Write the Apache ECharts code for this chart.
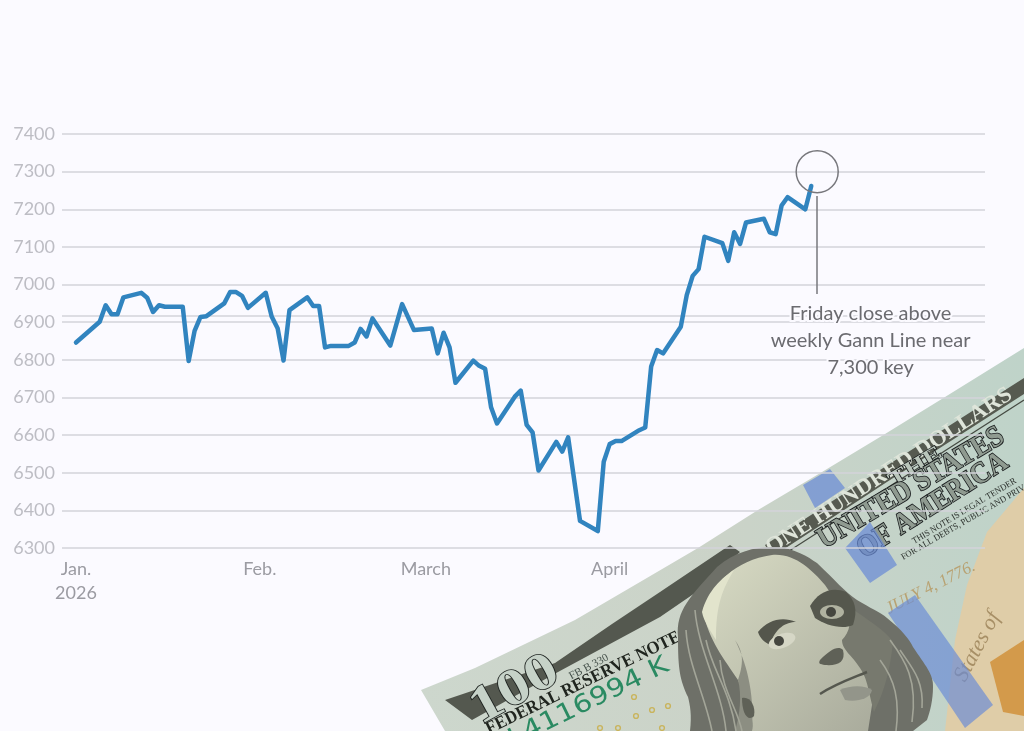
<!DOCTYPE html>
<html>
<head>
<meta charset="utf-8">
<style>html,body{margin:0;height:100%;background:#fbfaff;overflow:hidden}#chart{width:1024px;height:731px}</style>
<script src="https://cdn.jsdelivr.net/npm/echarts@6/dist/echarts.min.js"></script>
</head>
<body>
<div id="chart"></div>
<script>
const dates = ["01-01","01-05","01-06","01-07","01-08","01-09","01-12","01-13","01-14","01-15","01-16","01-19","01-20","01-21","01-22","01-23",
  "01-26","01-27","01-28","01-29","01-30","02-02","02-03","02-04","02-05","02-06","02-09","02-10","02-11","02-12","02-13","02-16","02-17","02-18","02-19","02-20",
  "02-23","02-25","02-27","03-02","03-03","03-04","03-05","03-06","03-09","03-10","03-11","03-12","03-13","03-16","03-17","03-18","03-19","03-20",
  "03-23","03-24","03-25","03-27","03-30","03-31","04-01","04-02","04-03","04-06","04-07","04-08","04-09","04-10","04-13","04-14","04-15","04-16","04-17",
  "04-20","04-21","04-22","04-23","04-24","04-27","04-28","04-29","04-30","05-01","05-04","05-05"];
const closes = [6846,6901,6945,6921,6921,6966,6978,6965,6927,6945,6941,6941,6797,6877,6914,6916,
  6950,6980,6980,6970,6938,6978,6915,6884,6798,6932,6966,6943,6943,6833,6837,6837,6846,6882,6862,6910,
  6838,6948,6879,6883,6817,6872,6833,6739,6798,6784,6776,6674,6631,6702,6718,6627,6607,6506,
  6582,6556,6594,6372,6345,6529,6576,6584,6584,6613,6620,6782,6826,6817,6888,6972,7023,7041,7127,
  7110,7063,7139,7108,7165,7175,7139,7134,7210,7232,7200,7262];
const monthTicks = ["01-01","02-01","03-01","04-01"];
const monthLabels = ["Jan.\n2026","Feb.","March","April"];
const gannLevel = 6918;
const noteLines = ["Friday close above","weekly Gann Line near","7,300 key"];

const ts = (d) => Date.parse("2026-" + d + "T00:00:00Z");
const DAY = 86400000;
const sansFont = "Lato, 'Open Sans', sans-serif";
const serifFont = "'Liberation Serif', serif";

// decoration: the banknote in the corner, screen coordinates
const poly = (pts, fill) => ({ type: "polygon", shape: { points: pts }, style: { fill: fill }, silent: true });
let pathCount = 0;
const path = (d, style) => {
  const name = "billPath" + pathCount++;
  echarts.graphic.registerShape(name, echarts.graphic.extendPath(d));
  return { type: name, style: style, silent: true };
};
const strokes = (list, color, width) => list.map((d) => path(d, { fill: "none", stroke: color, lineWidth: width }));
const label = (text, x, y, deg, size, fill, extra, scaleX) => ({
  type: "text", x: x, y: y, rotation: deg * Math.PI / 180, scaleX: scaleX || 1, silent: true,
  style: Object.assign({ text: text, x: 0, y: 0, fill: fill, fontFamily: serifFont, fontSize: size, verticalAlign: "middle" }, extra)
});
const dot = (x, y) => ({ type: "circle", shape: { cx: x, cy: y, r: 2.4 }, style: { fill: "none", stroke: "#c9b45c", lineWidth: 1.4 }, silent: true });
const ellipse = (cx, cy, rx, ry, deg, fill) => ({
  type: "ellipse", shape: { cx: cx, cy: cy, rx: rx, ry: ry }, rotation: deg * Math.PI / 180, originX: cx, originY: cy, style: { fill: fill }, silent: true
});
const heavy = { stroke: "#15181a", lineWidth: 1.7, fontWeight: "bold" };

const bill = [
  poly([[421,690],[475,668],[575,620],[640,582],[698,548],[758,510],[822,472],[885,434],[945,397],[1024,348],[1024,731],[445,731]], {
    type: "linear", x: 0, y: 0, x2: 1, y2: 0,
    colorStops: [{ offset: 0, color: "#cdd7cd" }, { offset: 0.5, color: "#cbd3c8" }, { offset: 1, color: "#bfd3c9" }]
  }),
  // tan seal area on the right
  poly([[987,532],[1024,488],[1024,731],[945,731],[955,640],[967,585]], "#dfcda8"),
  poly([[990,662],[1024,640],[1024,716],[1003,712]], "#d39a4b"),
  // engraved bands
  poly([[445,700],[555,663],[612,624],[660,592],[730,545],[740,552],[695,593],[660,617],[558,672],[472,720]], "#54584f"),
  poly([[765,545],[880,470],[1013,385],[1024,378],[1024,394],[890,480],[772,557]], "#565a50"),
  path("M775 560L1024 400", { stroke: "#454a42", lineWidth: 1.2, fill: "none" }),
  label("100", 474, 713, 29, 52, "#c6d2c8", { stroke: "#1e2320", lineWidth: 1.6, fontWeight: "bold" }, 1.2),
  label("FB B 330", 570, 677, 28, 11, "#44504a"),
  label("FEDERAL RESERVE NOTE", 487, 730, 26, 18, "#20251f", { fontWeight: "bold" }, 0.93),
  label("L4116994 K", 510, 741, 26, 25, "#2a8a62", { fontFamily: "'DejaVu Sans', sans-serif" }, 1.17),
  label("ONE HUNDRED DOLLARS", 768, 550, 33, 23, "#dfe5da", { fontWeight: "bold" }),
  label("THE", 890, 482, 31, 20, "#b9c5ba", { stroke: "#15181a", lineWidth: 1.3, fontWeight: "bold" }, 1.4),
  label("UNITED STATES", 820, 542, 30.6, 30, "#8f9a90", heavy, 0.9),
  label("OF AMERICA", 860, 552, 32.5, 30, "#8f9a90", heavy, 0.88),
  label("THIS NOTE IS LEGAL TENDER", 913, 542, 31, 9, "#2b302c", null, 0.95),
  label("FOR ALL DEBTS, PUBLIC AND PRIVATE", 902, 558, 30, 9, "#2b302c", null, 0.95),
  label("JULY 4, 1776.", 887, 610, 27, 17, "#b8a272", { fontStyle: "italic" }),
  label("States of", 960, 680, 62, 22, "#a78f66", { fontStyle: "italic" }),
  // blue security ribbon
  poly([[803,485],[830,469],[845,488],[815,508]], "rgba(105,138,214,0.72)"),
  poly([[845,548],[870,522],[897,565],[870,583]], "rgba(105,138,214,0.72)"),
  poly([[888,613],[915,595],[993,705],[965,728]], "rgba(105,138,214,0.68)"),
  // yellow 100s
  dot(634,697), dot(652,710), dot(668,706), dot(636,716), dot(618,728), dot(662,728), dot(600,728),
  // portrait: hair and coat
  path("M678 637C676 610 690 597 717 567C735 552 753 547 775 547C795 548 808 557 817 563C835 580 845 592 857 600C870 608 880 612 887 618C902 630 910 640 913 647C925 665 934 675 933 687C933 700 930 712 927 720L913 731L690 731C692 715 690 705 688 697C680 680 678 670 678 637Z", { fill: "#6e7068" }),
  // face
  path("M703 610C712 585 735 560 772 555C795 553 812 570 825 585C835 600 845 612 858 625C870 650 878 680 872 705L868 731L752 731C755 718 746 700 738 680C725 660 708 640 703 610Z", {
    fill: { type: "linear", x: 0, y: 0, x2: 1, y2: 1, colorStops: [{ offset: 0, color: "#d8dbc4" }, { offset: 1, color: "#a9ab9c" }] }
  }),
  path("M702 612C708 590 722 578 734 570C722 590 716 605 716 640C710 630 704 622 702 612Z", { fill: "#e2e4cc" }),
  // shadow side of the face
  path("M848 606C868 620 885 630 893 642C890 670 885 690 874 712C868 690 868 680 860 668C852 655 842 650 842 640C850 632 852 620 848 606Z", { fill: "#77796e" }),
  path("M738 680C745 660 742 650 735 640C745 660 755 690 752 731L735 731C740 715 742 695 738 680Z", { fill: "#8c8e82" })
].concat(
  // hair strands
  strokes(["M686 630C688 665 705 695 712 731","M695 610C698 650 722 690 726 731","M706 640C712 670 730 690 736 731","M720 660C722 690 738 710 742 731",
    "M890 640C905 660 918 680 912 722","M900 650C912 668 924 680 922 708","M880 660C895 680 900 700 896 731"], "#a3a598", 1.6)
).concat([
  // brows and eyes
  path("M758 632C768 620 782 616 796 622C786 622 775 628 770 645C764 642 760 638 758 632Z", { fill: "#54564c" }),
  path("M810 606C818 592 832 586 846 592C855 600 858 610 853 625C842 630 825 625 815 618Z", { fill: "#55574d" }),
  ellipse(782, 641, 14, 7, 20, "#d6d7c6"),
  { type: "circle", shape: { cx: 779, cy: 641, r: 5 }, style: { fill: "#45463f" }, silent: true },
  ellipse(832, 612, 12, 7, 0, "#b0b2a0"),
  { type: "circle", shape: { cx: 831, cy: 612, r: 5 }, style: { fill: "#45463f" }, silent: true },
  // nose and mouth
  path("M820 660C830 650 838 645 843 650C846 662 838 666 825 665C820 664 818 664 820 660Z", { fill: "#5f6157" }),
  path("M820 694C835 684 850 679 867 672", { fill: "none", stroke: "#55574e", lineWidth: 2.5 }),
  path("M840 690C850 685 865 685 872 690C870 700 855 702 845 700Z", { fill: "#93958a" }),
  // ear
  path("M742 698C750 696 756 706 754 716C748 722 742 714 742 698Z", { fill: "#5f6157" })
]);

const chart = echarts.init(document.getElementById("chart"));
window.addEventListener("resize", () => chart.resize());
chart.setOption({
  animation: false,
  backgroundColor: "#fbfaff",
  textStyle: { fontFamily: sansFont },
  grid: { left: 62, right: 39, top: 134, bottom: 183 },
  xAxis: {
    type: "value",
    min: ts("01-01") - 2.36 * DAY,
    max: ts("01-01") + 153.3 * DAY,
    axisLine: { show: false },
    axisTick: { show: false },
    splitLine: { show: false },
    axisLabel: {
      customValues: monthTicks.map(ts),
      formatter: (v) => monthLabels[monthTicks.map(ts).indexOf(v)] || "",
      color: "#9b9ba2", fontSize: 18, lineHeight: 24, margin: 9, hideOverlap: false
    }
  },
  yAxis: {
    type: "value", min: 6300, max: 7400, interval: 100,
    axisLine: { show: false },
    axisTick: { show: false },
    axisLabel: { color: "#bdbdc4", fontSize: 18, margin: 7, formatter: (v) => String(v) },
    splitLine: { lineStyle: { color: "#d3d3da", width: 1.6 } }
  },
  series: [{
    type: "line",
    data: dates.map((d, i) => [ts(d), closes[i]]),
    showSymbol: false,
    lineStyle: { color: "#3184bf", width: 4.5, cap: "round", join: "round" },
    itemStyle: { color: "#3184bf" },
    silent: true,
    z: 3,
    markLine: {
      silent: true, symbol: "none", z: 1, animation: false,
      label: { show: false },
      data: [
        [{ xAxis: ts("01-01") - 2.36 * DAY, yAxis: gannLevel, lineStyle: { color: "#d3d3da", width: 1.6, type: "solid" } },
         { xAxis: ts("01-01") + 153.3 * DAY, yAxis: gannLevel }],
        [{ xAxis: ts("05-06"), yAxis: 7235, lineStyle: { color: "#77777c", width: 1.5, type: "solid" } },
         { xAxis: ts("05-06"), yAxis: 6975 }]
      ]
    },
    markPoint: {
      silent: true, animation: false,
      data: [
        { coord: [ts("05-06"), 7300], symbol: "circle", symbolSize: 42,
          itemStyle: { color: "rgba(0,0,0,0)", borderColor: "#77777c", borderWidth: 1.5 }, label: { show: false } },
        { coord: [ts("05-15"), 6850], symbol: "circle", symbolSize: 1,
          itemStyle: { color: "rgba(0,0,0,0)" },
          label: {
            show: true, position: "inside", formatter: noteLines.join("\n"),
            color: "#6b6b70", fontSize: 20, lineHeight: 27, align: "center",
            fontFamily: sansFont, textBorderColor: "#fbfaff", textBorderWidth: 4
          } }
      ]
    }
  }],
  graphic: { elements: [{ type: "group", z: 100, children: bill }] }
});
</script>
</body>
</html>
